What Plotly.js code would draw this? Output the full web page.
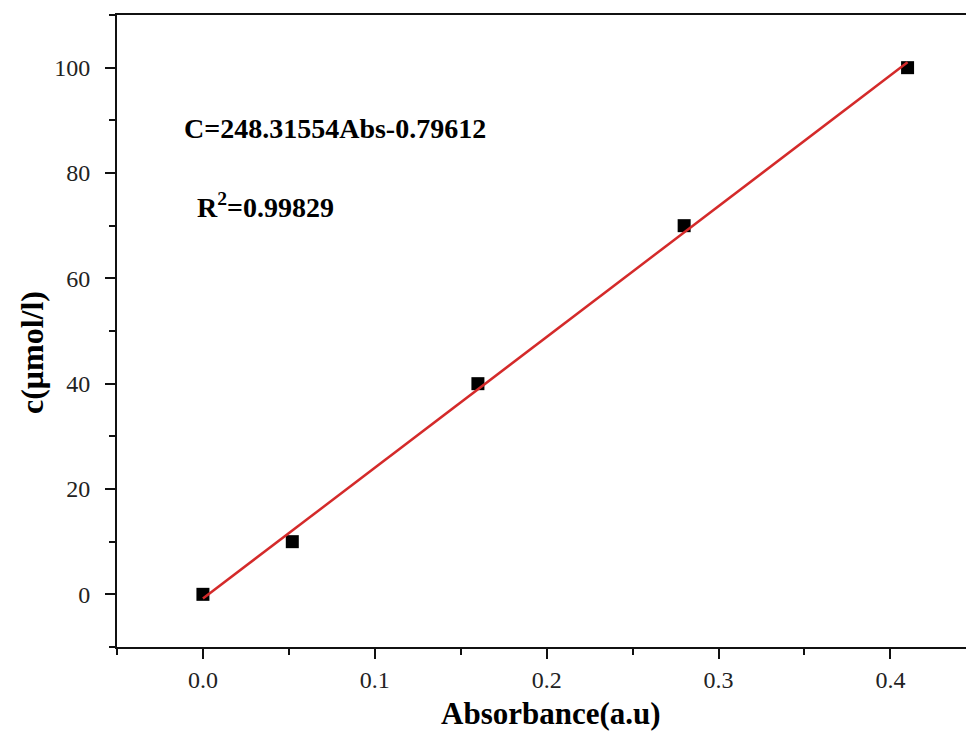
<!DOCTYPE html>
<html>
<head>
<meta charset="utf-8">
<script src="https://cdn.plot.ly/plotly-3.0.1.min.js"></script>
<style>html,body{margin:0;padding:0;background:#fff;}#chart{width:966px;height:731px;}</style>
</head>
<body>
<div id="chart"></div>
<script>
// Data
const absorbance = [0.0, 0.052, 0.16, 0.28, 0.41];
const concentration = [0, 10, 40, 70, 100];
// Linear fit C = 248.31554*Abs - 0.79612, endpoints
const fitX = [0.0, 0.41];
const fitY = [-0.80, 101.01];
const xTickVals = [0.0, 0.1, 0.2, 0.3, 0.4];
const xTickText = ["0.0", "0.1", "0.2", "0.3", "0.4"];
const yTickVals = [0, 20, 40, 60, 80, 100];
const yTickText = ["0", "20", "40", "60", "80", "100"];
const equationText = "C=248.31554Abs-0.79612";
const r2Text = "R<sup>2</sup>=0.99829";
const xTitle = "Absorbance(a.u)";
const yTitle = "c(μmol/l)";

const serif = "Liberation Serif, Times New Roman, serif";
const W = 966, H = 731, ML = 117, MR = 0, MT = 15, MB = 84;
const PW = W - ML - MR, PH = H - MT - MB;
const px = v => (v - ML) / PW;
const py = v => (H - MB - v) / PH;

const traces = [
  {
    x: absorbance, y: concentration, type: "scatter", mode: "markers",
    marker: {symbol: "square", size: 13, color: "#000000"},
    showlegend: false, cliponaxis: false
  },
  {
    x: fitX, y: fitY, type: "scatter", mode: "lines",
    line: {color: "#d42a2a", width: 2.5},
    showlegend: false
  }
];

const layout = {
  width: W, height: H,
  margin: {l: ML, r: MR, t: MT, b: MB},
  paper_bgcolor: "#ffffff", plot_bgcolor: "#ffffff",
  font: {family: serif, color: "#000000"},
  xaxis: {
    range: [-0.05, 0.444],
    tickvals: xTickVals, ticktext: xTickText,
    ticks: "outside", ticklen: 10, tickwidth: 2, tickcolor: "#111",
    minor: {dtick: 0.05, tick0: 0, ticks: "outside", ticklen: 6, tickwidth: 2, tickcolor: "#111", showgrid: false},
    showline: true, linewidth: 2, linecolor: "#111", mirror: true,
    showgrid: false, zeroline: false,
    ticklabelstandoff: 0,
    tickfont: {family: serif, size: 24, color: "#222"}
  },
  yaxis: {
    range: [-10, 110],
    tickvals: yTickVals, ticktext: yTickText,
    ticks: "outside", ticklen: 10, tickwidth: 2, tickcolor: "#111",
    minor: {dtick: 10, tick0: 0, ticks: "outside", ticklen: 6, tickwidth: 2, tickcolor: "#111", showgrid: false},
    showline: true, linewidth: 2, linecolor: "#111", mirror: false,
    showgrid: false, zeroline: false,
    ticklabelstandoff: 10,
    tickfont: {family: serif, size: 24, color: "#222"}
  },
  annotations: [
    {text: "<b>" + equationText + "</b>", xref: "paper", yref: "paper",
     x: px(182), y: py(129), xanchor: "left", yanchor: "middle",
     showarrow: false, font: {family: serif, size: 28, color: "#000"}},
    {text: "<b>" + r2Text + "</b>", xref: "paper", yref: "paper",
     x: px(195), y: py(206), xanchor: "left", yanchor: "middle",
     showarrow: false, font: {family: serif, size: 28, color: "#000"}},
    {text: "<b>" + xTitle + "</b>", xref: "paper", yref: "paper",
     x: px(551), y: py(714), xanchor: "center", yanchor: "middle",
     showarrow: false, font: {family: serif, size: 31, color: "#000"}},
    {text: "<b>" + yTitle + "</b>", xref: "paper", yref: "paper",
     x: px(32), y: py(353), xanchor: "center", yanchor: "middle", textangle: -90,
     showarrow: false, font: {family: serif, size: 32, color: "#000"}}
  ]
};

Plotly.newPlot("chart", traces, layout, {displayModeBar: false, staticPlot: true});
</script>
</body>
</html>
